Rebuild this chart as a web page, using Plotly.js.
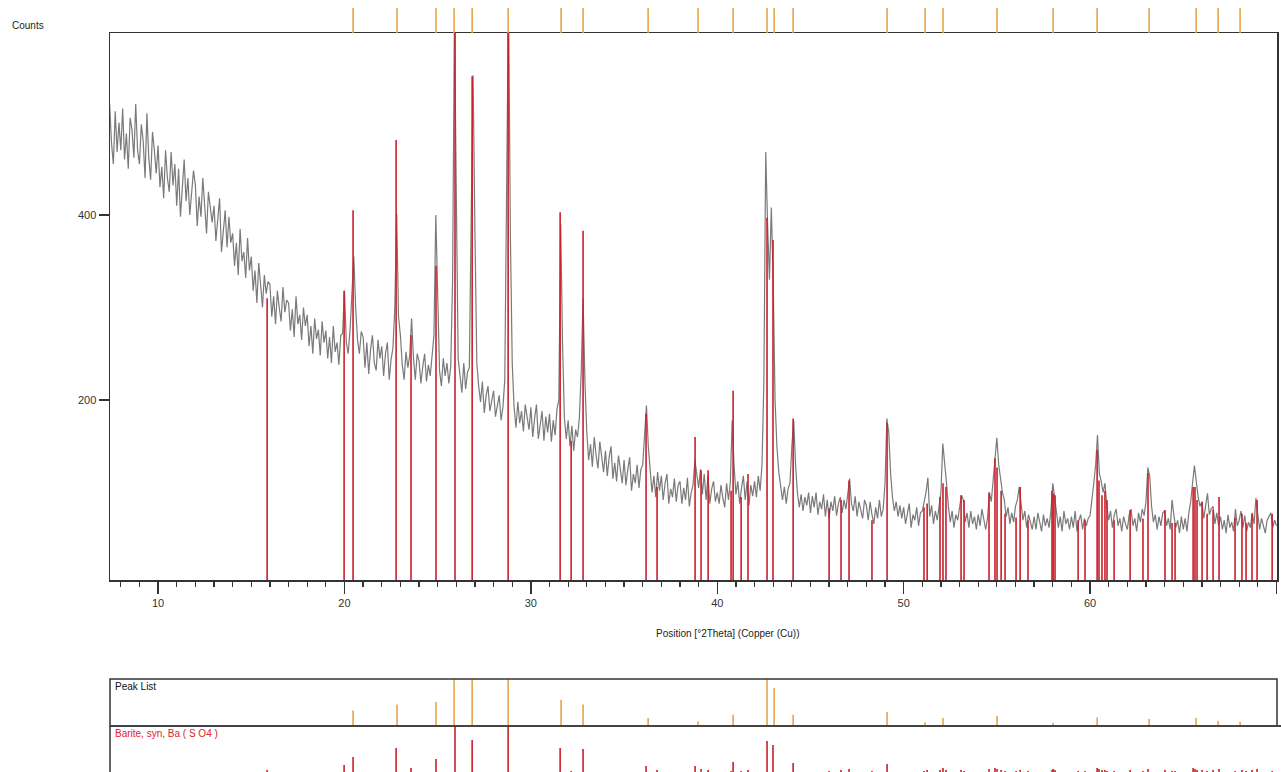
<!DOCTYPE html>
<html>
<head>
<meta charset="utf-8">
<script src="https://cdn.plot.ly/plotly-3.0.1.min.js"></script>
<style>html,body{margin:0;padding:0;background:#fff;}#chart{width:1281px;height:772px;}</style>
</head>
<body>
<div id="chart"></div>
<script>
// ---- measured pattern: counts on a 0.1 deg 2Theta grid starting at 7.4 ----
const tthStart = 7.4;
const tthStep = 0.1;
const counts = [
  520,478,455,512,468,500,                         // 7.4-7.9
  470,515,460,488,450,505,492,462,520,470,         // 8
  455,498,480,440,510,462,438,490,470,445,         // 9
  475,430,452,418,470,440,425,468,432,455,         // 10
  410,450,398,435,460,415,440,400,425,448,         // 11
  432,388,420,398,440,405,380,425,410,392,         // 12
  410,372,395,418,360,385,405,365,398,370,         // 13
  380,345,370,335,385,350,360,332,375,340,         // 14
  355,318,340,305,348,325,300,335,315,328,         // 15
  325,290,312,282,318,300,285,322,295,308,         // 16
  305,275,298,268,312,282,292,265,300,280,         // 17
  292,258,280,250,288,266,276,248,285,262,         // 18
  275,245,268,240,280,252,262,238,270,272,         // 19
  318,262,250,276,320,355,300,265,250,274,         // 20
  268,235,262,228,255,270,240,232,265,245,         // 21
  258,226,250,262,222,244,256,300,401,290,         // 22
  270,238,222,252,235,248,288,246,222,250,         // 23
  242,218,236,250,220,238,226,248,270,400,         // 24
  300,232,215,245,226,240,218,236,330,620,         // 25
  420,245,226,208,240,212,230,235,400,551,         // 26
  380,240,215,198,220,186,205,215,188,200,         // 27
  210,182,196,205,178,192,222,420,640,380,         // 28
  240,192,170,198,175,188,166,195,180,168,         // 29
  192,160,180,195,158,176,188,156,182,165,         // 30
  185,155,178,162,190,200,390,260,180,158,         // 31
  178,150,172,145,168,160,180,230,310,220,         // 32
  165,135,152,128,160,140,126,155,138,122,         // 33
  145,118,138,150,115,132,112,140,125,110,         // 34
  135,108,125,138,102,120,110,130,105,125,         // 35
  130,160,194,150,125,100,118,95,122,102,          // 36
  118,92,110,120,88,104,95,115,90,108,             // 37
  112,88,105,92,116,85,100,108,135,118,            // 38
  105,125,98,120,92,118,88,104,112,90,             // 39
  100,88,108,94,84,110,92,110,178,130,             // 40
  98,112,88,105,118,92,112,86,108,96,              // 41
  112,95,118,102,130,220,468,390,330,408,          // 42
  330,200,150,122,108,92,106,88,104,110,           // 43
  150,178,130,100,84,98,80,95,86,100,              // 44
  78,96,84,100,76,90,82,98,74,92,                  // 45
  72,90,80,96,75,88,95,78,92,82,                   // 46
  98,115,88,80,96,74,90,82,72,92,                  // 47
  86,70,90,76,66,84,72,92,74,82,                   // 48
  110,180,165,120,95,80,90,74,86,72,               // 49
  84,66,78,88,62,76,70,84,64,78,                   // 50
  80,90,100,116,74,86,66,80,70,85,                 // 51
  100,153,135,110,85,68,80,62,76,70,               // 52
  84,97,92,68,78,62,80,66,74,60,                   // 53
  76,64,82,70,60,72,100,90,112,135,                // 54
  159,130,115,100,92,74,84,66,78,68,               // 55
  85,92,106,88,70,80,62,76,68,60,                  // 56
  74,60,78,66,58,76,64,72,62,80,                   // 57
  110,95,76,62,74,58,80,66,72,60,                  // 58
  74,62,80,58,70,76,60,72,64,72,                   // 59
  75,90,110,130,162,120,112,100,110,85,            // 60
  70,80,62,76,82,64,72,58,74,66,                   // 61
  60,76,82,64,72,58,78,68,82,75,                   // 62
  90,127,118,85,68,76,60,74,64,78,                 // 63
  80,64,72,60,92,75,62,70,56,74,                   // 64
  60,72,58,78,90,110,129,112,95,85,                // 65
  90,72,86,99,76,82,85,66,78,64,                   // 66
  74,60,70,56,76,62,68,58,82,64,                   // 67
  70,80,62,75,58,68,62,78,66,94,                   // 68
  76,60,72,64,56,70,74,78,62,70,                   // 69
  64                                               // 70.0
];

// ---- Barite, syn  Ba(SO4) reference lines ----
const baritePos = [15.85,19.98,20.46,22.77,23.57,24.91,25.93,26.85,28.78,31.57,32.16,32.80,36.18,36.77,38.81,39.13,39.51,40.74,40.85,41.28,41.65,42.67,42.99,44.07,46.00,46.64,47.07,48.30,49.11,51.09,51.26,51.95,52.11,52.27,53.08,53.24,54.58,54.90,55.01,55.23,55.44,56.03,56.25,56.67,57.96,58.02,58.12,59.36,59.73,60.38,60.48,60.64,60.80,60.91,61.29,62.15,62.84,63.11,64.02,64.40,64.56,65.53,65.63,65.74,66.01,66.28,66.60,66.92,67.78,68.15,68.37,68.69,68.96,69.77];
const bariteCounts = [310,318,405,481,270,345,620,550,620,403,156,383,185,106,160,124,124,102,210,95,120,397,373,180,83,92,113,70,175,84,88,95,110,106,97,92,100,137,127,102,77,73,106,70,102,99,97,70,70,146,113,97,102,92,70,81,72,121,81,67,67,106,106,92,90,77,81,95,73,77,67,77,92,77];
const bariteRel = [56,61,69,78,58,67,100,86,100,78,55,77,60,56,60,57,56,55,64,55,56,85,81,63,55,56,57,55,62,55,56,56,58,56,56,55,57,58,57,56,55,55,56,55,56,57,56,55,55,58,57,56,56,55,55,56,55,57,56,55,55,58,57,56,56,55,56,57,55,56,55,56,57,55];

// ---- Peak list ----
const peakPos = [20.46,22.82,24.91,25.88,26.85,28.78,31.62,32.80,36.29,38.97,40.85,42.67,43.05,44.07,49.11,51.15,52.11,55.01,58.02,60.38,63.17,65.69,66.87,68.05];
const peakRel = [0.33,0.46,0.51,1.0,1.0,1.0,0.56,0.46,0.17,0.10,0.24,1.0,0.81,0.24,0.30,0.08,0.17,0.22,0.07,0.18,0.15,0.17,0.11,0.09];

// ---- labels ----
const yLabel = 'Counts';
const xLabel = 'Position [°2Theta] (Copper (Cu))';
const peakListLabel = 'Peak List';
const bariteLabel = 'Barite, syn, Ba ( S O4 )';

// build traces
const tth = counts.map((_, i) => +(tthStart + i * tthStep).toFixed(2));
function sticks(pos, h, base) {
  const x = [], y = [];
  pos.forEach((p, i) => { x.push(p, p, null); y.push(base, h[i], null); });
  return {x, y};
}
const W = 1281, H = 772;
const px = v => v / W;
const py = v => (H - v) / H;

const redCol = '#c91f2b';
const orangeCol = '#e8a449';

const sMain = sticks(baritePos, bariteCounts, 0);
const sTop = sticks(peakPos, peakPos.map(() => 1), 0);
const sPL = sticks(peakPos, peakRel, 0);
const sBar = sticks(baritePos, bariteRel, 0);

const traces = [
  {x: tth, y: counts, type: 'scatter', mode: 'lines', line: {color: '#7a7a7a', width: 1.2}, xaxis: 'x', yaxis: 'y', hoverinfo: 'x+y'},
  {x: sMain.x, y: sMain.y, type: 'scatter', mode: 'lines', line: {color: redCol, width: 1.6}, xaxis: 'x', yaxis: 'y', hoverinfo: 'skip'},
  {x: sTop.x, y: sTop.y, type: 'scatter', mode: 'lines', line: {color: orangeCol, width: 1.6}, xaxis: 'x', yaxis: 'y2', hoverinfo: 'skip'},
  {x: sPL.x, y: sPL.y, type: 'scatter', mode: 'lines', line: {color: orangeCol, width: 1.6}, xaxis: 'x', yaxis: 'y3', hoverinfo: 'skip'},
  {x: sBar.x, y: sBar.y, type: 'scatter', mode: 'lines', line: {color: redCol, width: 1.6}, xaxis: 'x', yaxis: 'y4', hoverinfo: 'skip'}
];

const tickFont = {family: 'Liberation Sans, Arial, sans-serif', size: 11, color: '#333'};
const layout = {
  width: W, height: H,
  margin: {l: 0, r: 0, t: 0, b: 0, pad: 0},
  paper_bgcolor: '#fff', plot_bgcolor: 'rgba(0,0,0,0)',
  showlegend: false,
  font: {family: 'Liberation Sans, Arial, sans-serif', color: '#222'},
  xaxis: {
    domain: [px(110), px(1277)], range: [7.42, 70.03], anchor: 'y',
    showgrid: false, zeroline: false,
    showline: true, mirror: true, linecolor: '#333', linewidth: 1.5,
    ticks: 'outside', ticklen: 12, tickwidth: 1.5, tickcolor: '#333',
    tick0: 0, dtick: 10, tickfont: tickFont,
    minor: {dtick: 1, ticks: 'outside', ticklen: 5, tickwidth: 1.3, tickcolor: '#333', showgrid: false},
    automargin: false
  },
  yaxis: {
    domain: [py(580), py(33)], range: [5.4, 596.7], anchor: 'x',
    showgrid: false, zeroline: false,
    showline: true, mirror: true, linecolor: '#333', linewidth: 1.5,
    ticks: 'outside', ticklen: 10, tickwidth: 1.3, tickcolor: '#333',
    tick0: 0, dtick: 200, tickfont: tickFont, automargin: false
  },
  yaxis2: {domain: [py(33), py(8)], range: [0, 1], anchor: 'x', visible: false, fixedrange: true},
  yaxis3: {domain: [py(726), py(679)], range: [0, 1], anchor: 'x', visible: false, fixedrange: true},
  yaxis4: {domain: [0, py(726)], range: [54, 100], anchor: 'x', visible: false, fixedrange: true},
  shapes: [
    {type: 'rect', xref: 'paper', yref: 'paper', x0: px(110), x1: px(1277), y0: py(726), y1: py(679), line: {color: '#333', width: 1.5}},
    {type: 'line', xref: 'paper', yref: 'paper', x0: px(110), x1: 1, y0: py(726), y1: py(726), line: {color: '#444', width: 2}},
    {type: 'line', xref: 'paper', yref: 'paper', x0: px(110), x1: px(110), y0: 0, y1: py(726), line: {color: '#333', width: 1.5}}
  ],
  annotations: [
    {text: yLabel, xref: 'paper', yref: 'paper', x: px(10), y: py(25), xanchor: 'left', yanchor: 'middle', showarrow: false, font: {size: 10, color: '#222'}},
    {text: xLabel, xref: 'paper', yref: 'paper', x: px(728), y: py(633), xanchor: 'center', yanchor: 'middle', showarrow: false, font: {size: 10, color: '#222'}},
    {text: peakListLabel, xref: 'paper', yref: 'paper', x: px(113), y: py(686), xanchor: 'left', yanchor: 'middle', showarrow: false, font: {size: 10, color: '#111'}},
    {text: bariteLabel, xref: 'paper', yref: 'paper', x: px(113), y: py(733), xanchor: 'left', yanchor: 'middle', showarrow: false, font: {size: 10, color: '#e0202a'}}
  ]
};

Plotly.newPlot('chart', traces, layout, {displayModeBar: false, staticPlot: true});
</script>
</body>
</html>
